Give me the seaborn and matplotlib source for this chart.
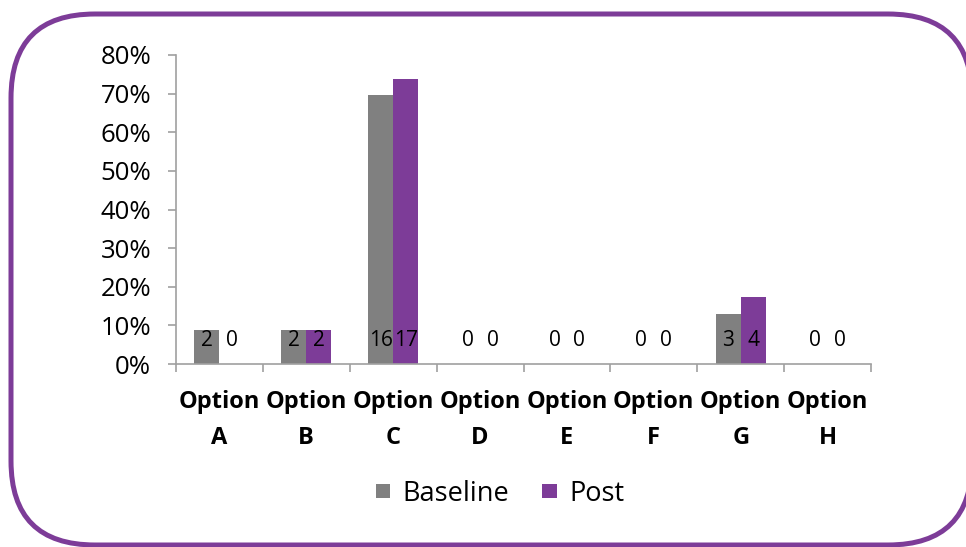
import matplotlib
matplotlib.use("Agg")
import matplotlib.pyplot as plt
from matplotlib.patches import FancyBboxPatch
import seaborn as sns
import pandas as pd

# Response counts per option for each survey round
options = ["Option\nA", "Option\nB", "Option\nC", "Option\nD",
           "Option\nE", "Option\nF", "Option\nG", "Option\nH"]
baseline_counts = [2, 2, 16, 0, 0, 0, 3, 0]
post_counts = [0, 2, 17, 0, 0, 0, 4, 0]
series = ["Baseline", "Post"]
colors = ["#808080", "#7D3C98"]
y_ticks = [0, 0.1, 0.2, 0.3, 0.4, 0.5, 0.6, 0.7, 0.8]

rows = []
for name, counts in zip(series, [baseline_counts, post_counts]):
    total = sum(counts)
    for opt, c in zip(options, counts):
        rows.append({"option": opt, "series": name, "count": c, "share": c / total})
df = pd.DataFrame(rows)

sns.set_theme(style="white")
plt.rcParams["font.family"] = ["Open Sans", "DejaVu Sans"]
plt.rcParams["text.color"] = "black"
plt.rcParams["xtick.color"] = "black"
plt.rcParams["ytick.color"] = "black"

W, H = 966, 547
fig = plt.figure(figsize=(W / 100, H / 100), dpi=100)

# Rounded purple frame drawn in pixel space
bg = fig.add_axes([0, 0, 1, 1], zorder=0)
bg.set_xlim(0, W)
bg.set_ylim(H, 0)
bg.axis("off")
frame = FancyBboxPatch((11, 14), 961, 531,
                       boxstyle="round,pad=0,rounding_size=84",
                       facecolor="white", edgecolor="#7D3C98", linewidth=3.6)
bg.add_patch(frame)

ax = fig.add_axes([176 / W, 1 - 364 / H, (871 - 176) / W, (364 - 55) / H], zorder=1)
ax.patch.set_alpha(0)
sns.barplot(data=df, x="option", y="share", hue="series", hue_order=series,
            palette=colors, width=0.575, saturation=1, ax=ax, legend=True,
            edgecolor="none")

ax.set_ylim(0, 0.8)
ax.set_xlim(-0.5, len(options) - 0.5)
ax.set_yticks(y_ticks)
ax.set_yticklabels([f"{int(round(t * 100))}%" for t in y_ticks], fontsize=18.5)
ax.set_xticks(range(len(options)))
ax.set_xticklabels(options, fontsize=17, fontweight="bold", linespacing=1.65)
ax.set_xticks([i - 0.5 for i in range(len(options) + 1)], minor=True)
ax.tick_params(axis="x", which="major", length=0, pad=19)
ax.tick_params(axis="x", which="minor", length=6, width=1.2, color="#A0A0A0", direction="out", bottom=True)
ax.tick_params(axis="y", length=6, width=1.2, color="#A0A0A0", direction="out", left=True, pad=12)
ax.set_xlabel("")
ax.set_ylabel("")
for side in ["top", "right"]:
    ax.spines[side].set_visible(False)
for side in ["left", "bottom"]:
    ax.spines[side].set_color("#A0A0A0")
    ax.spines[side].set_linewidth(1.2)
ax.grid(False)

# Count labels placed near the base of each bar
for container, counts in zip(ax.containers, [baseline_counts, post_counts]):
    for bar, c in zip(container, counts):
        ax.text(bar.get_x() + bar.get_width() / 2, 0.06, str(c),
                ha="center", va="center", fontsize=15, color="black")

leg = ax.legend(loc="center", bbox_to_anchor=(0.466, -0.42), ncol=2, frameon=False,
                fontsize=19.5, handlelength=0.55, handleheight=0.45,
                handletextpad=0.45, columnspacing=1.2)

fig.savefig("out.png", dpi=100)
